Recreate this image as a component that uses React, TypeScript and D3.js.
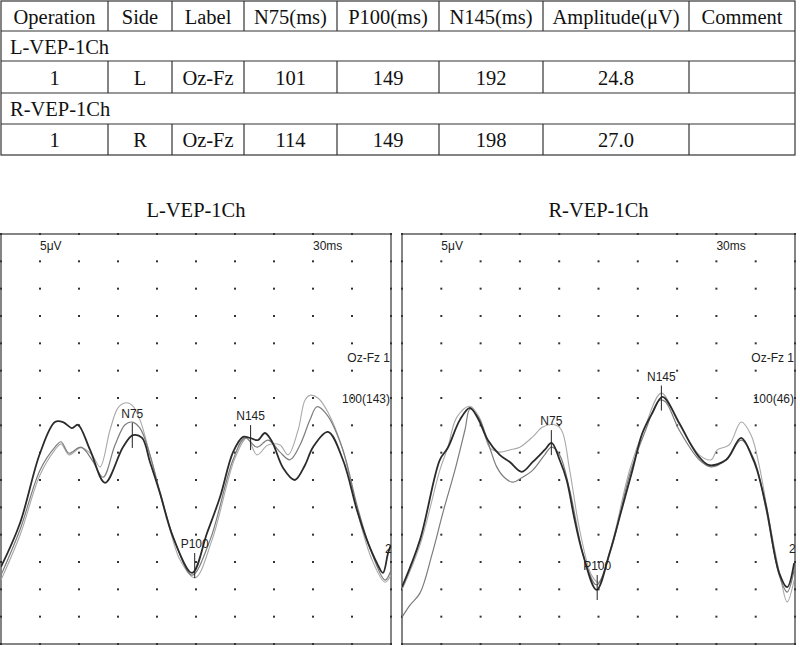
import React from "react";
import * as d3 from "d3";

// table content
const tableColumns = ["Operation", "Side", "Label", "N75(ms)", "P100(ms)", "N145(ms)", "Amplitude(μV)", "Comment"];
const sectionNames = ["L-VEP-1Ch", "R-VEP-1Ch"];
const sectionRows = [
  ["1", "L", "Oz-Fz", "101", "149", "192", "24.8", ""],
  ["1", "R", "Oz-Fz", "114", "149", "198", "27.0", ""],
];
const peakNames = ["N75", "P100", "N145"];
const channelLabels = ["Oz-Fz 1", "Oz-Fz 1"];
const averageLabels = ["100(143)", "100(46)"];

// traces: [latency ms, amplitude µV]
const leftDark: [number, number][] = [
  [0, -23.4], [14.6, -15.4], [30, -2.6], [41.5, 3.1], [47.7, 3.1], [54.6, 2.0], [59.2, 2.6], [68.5, -2.0],
  [80, -8.0], [93.8, -1.5], [101.5, 0.7], [108.5, 0.2], [114.6, -4.2], [122.3, -9.9], [132.3, -17.9],
  [147, -24.5], [158.5, -17.2], [168.5, -10.6], [178.5, -2.4], [186.2, 0.4], [191.5, 0.2], [197.7, -0.2],
  [203, 1.1], [208.5, -0.5], [217, -5.3], [226, -7.5], [233.8, -4.8], [240, -1.5], [251.5, 1.3],
  [263, -3.8], [273.8, -13.0], [281.5, -18.5], [289.2, -22.7], [293.8, -24.5], [297.7, -20.9], [300, -19.4],
];
const leftMid: [number, number][] = [
  [0, -24.9], [14.6, -16.6], [30, -5.7], [41.5, -1.5], [46.2, -0.5], [52.3, -2.6], [61.5, -1.5], [70, -3.8],
  [78.5, -7.0], [87.7, -1.1], [95.4, 2.6], [100.8, 3.1], [106.9, 2.0], [114.6, -2.9], [123.8, -11.2],
  [136.2, -20.3], [147, -24.9], [160.8, -18.5], [178.5, -3.8], [187.7, 0.2], [196.9, -1.5], [205.4, -0.2],
  [214.6, -2.4], [222.3, -3.8], [230, -1.1], [237.7, 3.5], [243, 5.9], [250.8, 4.4], [263, -2.0],
  [273.8, -12.1], [283.8, -19.9], [295.4, -25.8], [300, -24.0],
];
const leftLight: [number, number][] = [
  [0, -25.8], [14.6, -17.6], [30, -6.6], [41.5, -2.0], [46.2, -0.9], [52.3, -2.9], [61.5, -1.6], [70, -2.9],
  [76.2, -5.1], [83.8, 1.6], [90, 5.7], [95.4, 6.6], [100.8, 6.2], [106.9, 3.5], [114.6, -2.9],
  [126.2, -13.0], [137.7, -22.1], [149.2, -25.4], [162.3, -18.5], [180, -3.5], [189.2, 0.2], [196.9, -2.9],
  [205.4, -1.1], [214.6, -1.1], [220.8, -2.9], [228.5, 1.6], [233.8, 7.1], [237.7, 8.0], [243.8, 7.5],
  [251.5, 4.9], [263, -2.0], [273.8, -13.0], [285.4, -22.1], [295.4, -26.2], [300, -24.9],
];
const rightDark: [number, number][] = [
  [0, -27.1], [13.7, -18.5], [28.9, -3.8], [35, -1.6], [44.2, 3.5], [51.8, 5.7], [57.9, 3.8], [65.5, -0.2],
  [74.6, -2.9], [82.3, -4.2], [91.4, -6.0], [99.8, -4.2], [108.9, -2.0], [114.2, -0.7], [120.3, -3.8],
  [125.7, -7.5], [131.8, -14.8], [137.9, -20.9], [148.5, -27.6], [158.4, -20.9], [167.6, -13.0],
  [175.9, -5.7], [183.5, 1.1], [191.2, 4.8], [198.8, 7.7], [211.7, 2.9], [219.3, -0.5], [226.9, -3.3],
  [234.6, -4.8], [247.5, -3.8], [258.9, 0.2], [267.3, -3.3], [271.1, -5.7], [278, -12.4], [287.9, -24.5],
  [294, -27.1], [299.3, -22.7],
];
const rightMid: [number, number][] = [
  [0, -32.6], [6.1, -30.4], [13.7, -28.2], [22.8, -21.2], [31.2, -13.5], [40.4, -5.7], [48, 1.6], [52, 5.5],
  [59.4, 3.5], [67, -1.6], [72.3, -5.1], [78.4, -7.1], [84.5, -7.9], [91.4, -7.1], [99.8, -5.7],
  [108.9, -2.9], [114.2, -1.5], [120.3, -2.9], [128, -9.3], [139.4, -22.1], [148.5, -26.7], [160, -19.9],
  [173.7, -6.6], [185.1, 1.1], [196.5, 7.1], [201.1, 6.8], [211.7, 1.6], [226.9, -3.8], [236, -5.1],
  [247.5, -3.8], [258.9, -0.2], [268.8, -3.8], [278, -13.0], [287.9, -24.9], [294, -28.0], [299.3, -24.0],
];
const rightLight: [number, number][] = [
  [0, -27.6], [13.7, -19.4], [28.9, -5.7], [35, -1.5], [41.9, 4.0], [51.8, 6.0], [59.4, 3.8], [67, -1.6],
  [74.6, -2.4], [82.3, -2.0], [89.9, -1.5], [99.8, 0.4], [107.4, 2.2], [116.5, 2.6], [121.8, 1.6],
  [128, -5.7], [135.6, -16.6], [144.7, -24.9], [150, -26.2], [160, -19.4], [173.7, -5.7], [185.1, 2.0],
  [198, 8.4], [211.7, 2.6], [226.9, -2.9], [236, -3.8], [240.6, -2.0], [249.7, -1.1], [258.9, 3.1],
  [266.5, 0.7], [272.6, -4.8], [280.2, -14.8], [289.3, -25.8], [294, -29.8], [299.3, -25.8],
];

const MS_PER_DIV = 30;
const UV_PER_DIV = 5;
const X_DIVS = 10;
const Y_DIVS = 15;

const serif = "'Liberation Serif', 'Times New Roman', serif";
const sans = "'Liberation Sans', Arial, sans-serif";

function valueAt(trace: [number, number][], t: number) {
  const i = d3.bisector((d: [number, number]) => d[0]).left(trace, t);
  if (i <= 0) return trace[0][1];
  if (i >= trace.length) return trace[trace.length - 1][1];
  const a = trace[i - 1], b = trace[i];
  return a[1] + ((b[1] - a[1]) * (t - a[0])) / (b[0] - a[0]);
}

function Table() {
  const colEdges = [1, 108, 172, 244, 337, 439, 543, 689, 795];
  const rowEdges = [1, 31, 61, 93, 124, 155];
  const left = colEdges[0], right = colEdges[colEdges.length - 1];
  const midX = (i: number) => (colEdges[i] + colEdges[i + 1]) / 2;
  const baseY = (r: number) => (rowEdges[r] + rowEdges[r + 1]) / 2 + 7.5;
  const textStyle = { fontFamily: serif, fontSize: 20.5, fill: "#111" };

  return (
    <g>
      <rect x={left} y={rowEdges[0]} width={right - left} height={rowEdges[5] - rowEdges[0]} fill="none" stroke="#333" strokeWidth={1.2} />
      {rowEdges.slice(1, -1).map((y, i) => (
        <line key={`h${i}`} x1={left} x2={right} y1={y} y2={y} stroke="#333" strokeWidth={1.2} />
      ))}
      {/* vertical lines only in header and data rows */}
      {[0, 2, 4].map((r) =>
        colEdges.slice(1, -1).map((x, i) => (
          <line key={`v${r}-${i}`} x1={x} x2={x} y1={rowEdges[r]} y2={rowEdges[r + 1]} stroke="#333" strokeWidth={1.2} />
        ))
      )}
      {tableColumns.map((c, i) => (
        <text key={c} x={midX(i)} y={baseY(0)} textAnchor="middle" style={textStyle}>{c}</text>
      ))}
      {sectionNames.map((s, k) => (
        <g key={s}>
          <text x={left + 9} y={baseY(1 + k * 2)} style={textStyle}>{s}</text>
          {sectionRows[k].map((v, i) => (
            <text key={i} x={midX(i)} y={baseY(2 + k * 2)} textAnchor="middle" style={textStyle}>{v}</text>
          ))}
        </g>
      ))}
    </g>
  );
}

function Panel({ x0, x1, y0, y1, title, traces, latencies, channel, average }: {
  x0: number; x1: number; y0: number; y1: number; title: string;
  traces: [number, number][][]; latencies: number[]; channel: string; average: string;
}) {
  const x = d3.scaleLinear().domain([0, MS_PER_DIV * X_DIVS]).range([x0, x1]);
  const y = d3.scaleLinear().domain([-UV_PER_DIV * Y_DIVS / 2, UV_PER_DIV * Y_DIVS / 2]).range([y1, y0]);
  const line = d3.line<[number, number]>()
    .x((d) => x(d[0]))
    .y((d) => y(d[1]))
    .curve(d3.curveCatmullRom.alpha(0.5));

  const xTicks = d3.range(0, X_DIVS + 1).map((i) => i * MS_PER_DIV);
  const yTicks = d3.range(0, Y_DIVS + 1).map((i) => -UV_PER_DIV * Y_DIVS / 2 + i * UV_PER_DIV);

  const styles = [
    { stroke: "#a9a9a9", width: 1.1 },
    { stroke: "#7c7c7c", width: 1.2 },
    { stroke: "#2b2b2b", width: 1.8 },
  ];
  const dark = traces[0];
  const clipId = `clip-${title}`;

  return (
    <g>
      <text x={(x0 + x1) / 2} y={217} textAnchor="middle" style={{ fontFamily: serif, fontSize: 20.5, fill: "#111" }}>{title}</text>
      <defs>
        <clipPath id={clipId}>
          <rect x={x0} y={y0} width={x1 - x0} height={y1 - y0} />
        </clipPath>
      </defs>
      <rect x={x0} y={y0} width={x1 - x0} height={y1 - y0} fill="#fff" stroke="#444" strokeWidth={1.3} />
      {xTicks.map((tx) =>
        yTicks.map((ty) => (
          <rect key={`${tx}-${ty}`} x={x(tx) - 1} y={y(ty) - 1} width={2} height={2} fill="#333" />
        ))
      )}
      <g clipPath={`url(#${clipId})`}>
        {[traces[2], traces[1], traces[0]].map((t, i) => (
          <path key={i} d={line(t) || ""} fill="none" stroke={styles[i].stroke} strokeWidth={styles[i].width} strokeLinejoin="round" />
        ))}
      </g>
      <g style={{ fontFamily: sans, fontSize: 12, fill: "#222" }}>
        <text x={x(MS_PER_DIV)} y={y0 + 16}>5μV</text>
        <text x={x(MS_PER_DIV * 8)} y={y0 + 16}>30ms</text>
        <text x={x1 - 1} y={362} textAnchor="end">{channel}</text>
        <text x={x1 - 1} y={403} textAnchor="end">{average}</text>
        <text x={x1 - 6} y={553}>2</text>
        {latencies.map((lat, i) => {
          const cx = x(lat);
          const cy = y(valueAt(dark, lat));
          return (
            <g key={peakNames[i]}>
              <line x1={cx} x2={cx} y1={cy - 13} y2={cy + 12} stroke="#222" strokeWidth={1} />
              <text x={cx} y={cy - 18} textAnchor="middle">{peakNames[i]}</text>
            </g>
          );
        })}
      </g>
    </g>
  );
}

export default function App() {
  const lat = (k: number) => [3, 4, 5].map((c) => +sectionRows[k][c]);
  return (
    <svg width={800} height={647} style={{ position: "absolute", left: 0, top: 0, background: "#fff" }}>
      <rect width={800} height={647} fill="#fff" />
      <Table />
      <Panel x0={1} x1={391} y0={234} y1={644} title={sectionNames[0]}
        traces={[leftDark, leftMid, leftLight]} latencies={lat(0)} channel={channelLabels[0]} average={averageLabels[0]} />
      <Panel x0={402} x1={795} y0={234} y1={644} title={sectionNames[1]}
        traces={[rightDark, rightMid, rightLight]} latencies={lat(1)} channel={channelLabels[1]} average={averageLabels[1]} />
    </svg>
  );
}
